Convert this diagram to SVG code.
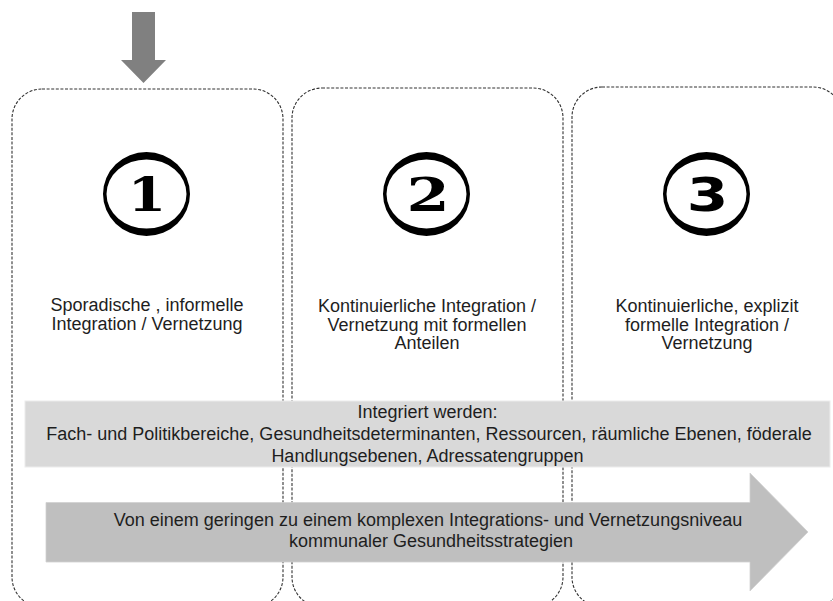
<svg xmlns="http://www.w3.org/2000/svg" width="833" height="601" viewBox="0 0 833 601">
<style>
.box{fill:none;stroke:#333;stroke-width:1.1;stroke-dasharray:3 1.6}
.t{font-family:"Liberation Sans",Arial,sans-serif;font-size:18px;fill:#1e1e1e;text-anchor:middle}
.ring{fill:#000;fill-rule:evenodd}
.dser{font-family:"DejaVu Serif",serif;font-weight:bold;font-size:46px;fill:#000;text-anchor:middle}
.dsan{font-family:"DejaVu Sans",sans-serif;font-weight:bold;font-size:46px;fill:#000;text-anchor:middle}
</style>
<rect width="833" height="601" fill="#fff"/>
<g id="stage1">
<rect class="box" x="12" y="89" width="271" height="518" rx="30" ry="30"/>
<path class="ring" d="M103,194a43.5,42 0 1,0 87,0a43.5,42 0 1,0 -87,0Z M106.5,194a40,34.5 0 1,0 80,0a40,34.5 0 1,0 -80,0Z"/>
<text class="dser" transform="translate(147,210.5) scale(1.2,1)">1</text>
<text class="t" x="147" y="311">Sporadische , informelle</text>
<text class="t" x="147" y="329.5">Integration / Vernetzung</text>
</g>
<g id="stage2">
<rect class="box" x="292" y="88" width="271" height="519" rx="30" ry="30"/>
<path class="ring" d="M383,194a43.5,42 0 1,0 87,0a43.5,42 0 1,0 -87,0Z M386.5,194a40,34.5 0 1,0 80,0a40,34.5 0 1,0 -80,0Z"/>
<text class="dser" transform="translate(428,210.5) scale(1.35,1)">2</text>
<text class="t" x="427" y="312">Kontinuierliche Integration /</text>
<text class="t" x="427" y="330.5">Vernetzung mit formellen</text>
<text class="t" x="427" y="349">Anteilen</text>
</g>
<g id="stage3">
<rect class="box" x="572" y="87" width="271" height="520" rx="30" ry="30"/>
<path class="ring" d="M663,194a43.5,42 0 1,0 87,0a43.5,42 0 1,0 -87,0Z M666.5,194a40,34.5 0 1,0 80,0a40,34.5 0 1,0 -80,0Z"/>
<text class="dsan" transform="translate(707.5,210.5) scale(1.3,1)">3</text>
<text class="t" x="707" y="312">Kontinuierliche, explizit</text>
<text class="t" x="707" y="330.5">formelle Integration /</text>
<text class="t" x="707" y="349">Vernetzung</text>
</g>
<g id="integration-band">
<rect x="25" y="401" width="805" height="66" fill="#d9d9d9" stroke="#ececec" stroke-width="1"/>
<text class="t" x="427.5" y="418">Integriert werden:</text>
<text class="t" x="429" y="440">Fach- und Politikbereiche, Gesundheitsdeterminanten, Ressourcen, räumliche Ebenen, föderale</text>
<text class="t" x="427.5" y="462">Handlungsebenen, Adressatengruppen</text>
</g>
<g id="level-arrow">
<path d="M46,502.5H750V473L808,532L750,591V562H46Z" fill="#bfbfbf" stroke="#d0d0d0" stroke-width="0.8"/>
<text class="t" x="428" y="526">Von einem geringen zu einem komplexen Integrations- und Vernetzungsniveau</text>
<text class="t" x="431" y="547">kommunaler Gesundheitsstrategien</text>
</g>
<g id="connectors">
<path d="M132,12H155V60H166L143.5,83L121,60H132Z" fill="#808080"/>
</g>
</svg>
